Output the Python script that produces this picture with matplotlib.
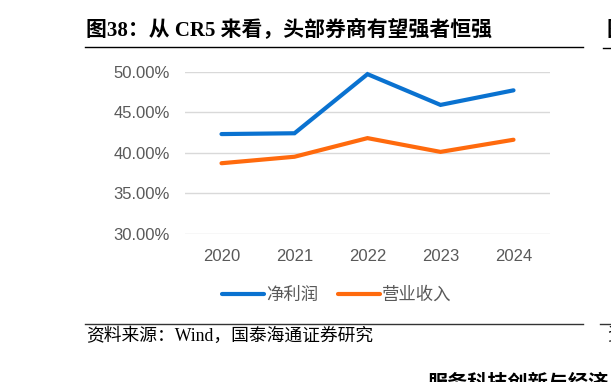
import numpy as np
import matplotlib.pyplot as plt
from matplotlib.lines import Line2D

years = ["2020", "2021", "2022", "2023", "2024"]
net_profit = [42.3, 42.4, 49.7, 45.9, 47.7]
revenue = [38.7, 39.5, 41.8, 40.1, 41.6]
series_names = ["净利润", "营业收入"]
y_ticks = [30, 35, 40, 45, 50]

BLUE = "#0A72D0"
ORANGE = "#FF6A0D"
GREY = "#595959"
W, H = 611, 382

fig = plt.figure(figsize=(W / 100, H / 100), dpi=100)
serif_cjk = ["Liberation Serif", "Noto Sans CJK SC"]

def fx(px):
    return px / W

def fy(py):
    return 1 - py / H

# chart area
ax = fig.add_axes([fx(185), fy(233.7), fx(550) - fx(185), fy(71.7) - fy(233.7)])
x = np.arange(len(years))
ax.plot(x, net_profit, color=BLUE, lw=3, solid_capstyle="round", solid_joinstyle="miter", label=series_names[0], clip_on=False, zorder=3)
ax.plot(x, revenue, color=ORANGE, lw=3, solid_capstyle="round", solid_joinstyle="miter", label=series_names[1], clip_on=False, zorder=3)
ax.set_xlim(-0.5, len(years) - 0.5)
ax.set_ylim(30, 50)
ax.set_yticks(y_ticks)
ax.set_yticklabels([f"{v:.2f}%" for v in y_ticks], family="Liberation Sans", fontsize=12, color=GREY)
ax.set_xticks(x)
ax.set_xticklabels(years, family="Liberation Sans", fontsize=12, color=GREY)
ax.tick_params(length=0)
ax.tick_params(axis="y", pad=11)
ax.tick_params(axis="x", pad=11)
ax.grid(axis="y", color="#D9D9D9", lw=1)
ax.set_axisbelow(True)
for s in ax.spines.values():
    s.set_visible(False)

leg = fig.legend(loc="center", bbox_to_anchor=(fx(337), fy(295)), ncol=2, frameon=False,
                 handlelength=2.4, handletextpad=0.15, columnspacing=1.1,
                 prop={"family": "Noto Sans CJK SC", "size": 12.5, "weight": "light"})
for t in leg.get_texts():
    t.set_color(GREY)

# title, rules and source
fig.text(fx(86), fy(31), "图38：从 CR5 来看，头部券商有望强者恒强", family=serif_cjk,
         fontsize=15, weight="bold", va="center", ha="left", color="black")
fig.add_artist(Line2D([fx(85), fx(583)], [fy(46.7), fy(46.7)], color="black", lw=1))
fig.add_artist(Line2D([fx(603), fx(611)], [fy(47.5), fy(47.5)], color="black", lw=1))
fig.text(fx(607), fy(31), "图", family=serif_cjk, fontsize=15, weight="bold", va="center", ha="left")
fig.add_artist(Line2D([fx(85), fx(583)], [fy(324), fy(324)], color="#333333", lw=1))
fig.add_artist(Line2D([fx(600), fx(611)], [fy(324), fy(324)], color="#333333", lw=1))
fig.text(fx(86), fy(336), "资料来源：Wind，国泰海通证券研究", family=serif_cjk,
         fontsize=12.8, va="center", ha="left", color="black")
fig.text(fx(607), fy(336), "资", family=serif_cjk, fontsize=12.8, va="center", ha="left", color="black")
fig.text(fx(428), fy(374), "服务科技创新与经济", family=serif_cjk,
         fontsize=14.5, weight="bold", va="top", ha="left", color="black")

fig.savefig("out.png", dpi=100)
